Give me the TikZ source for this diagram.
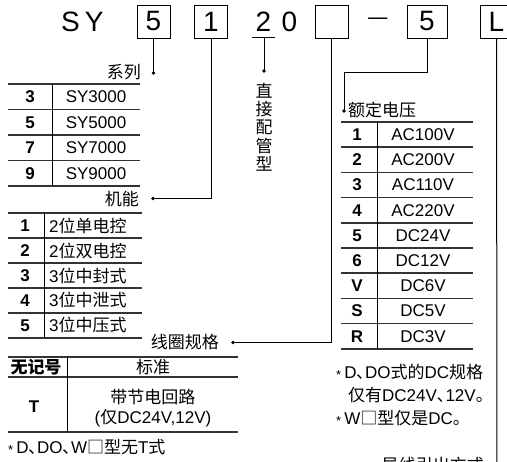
\documentclass[tikz,border=0pt]{standalone}
\usepackage{fontspec}
\setmainfont{Liberation Sans}
\newfontfamily\cjk{Noto Sans CJK SC}
\newcommand{\zh}[1]{{\cjk #1}}
\newcommand{\notemark}{\raisebox{-1.5pt}{\fontsize{13}{13}\selectfont *}\hspace{3pt}}

\begin{document}
\begin{tikzpicture}[x=1pt,y=-1pt,
    every node/.style={inner sep=0pt,font=\fontsize{17}{18.3}\selectfont},
    title/.style={font=\fontsize{28}{30}\selectfont},
    codebox/.style={draw,line width=0.9pt,minimum width=33pt,minimum height=33pt,title},
    rule/.style={line width=1.6pt,black!80},
    sep/.style={line width=1pt},
    wire/.style={line width=1pt},
    key/.style={font=\fontsize{17}{18}\selectfont\bfseries}]
        \useasboundingbox (0,0) rectangle (507,462);

        % draw the model code
        \node[title,anchor=base west] (sy) at (61,32) {S\hspace{5pt}Y};
        \node[codebox] (ser) at (153.5,21.5) {5};
        \node[codebox] (fun) at (211,21.5) {1};
        \node[title,anchor=base] (two) at (263.5,32) {2};
        \node[title,anchor=base] (zero) at (289.5,32) {0};
        \node[codebox] (coil) at (331.5,21.5) {};
        \node[title,font=\fontsize{24}{24}\cjk] (dash) at (378.5,22) {—};
        \node[codebox,minimum width=40pt] (volt) at (427,21.5) {5};
        \node[codebox] (lead) at (496.5,21.5) {L};
        \draw[wire] (252,38) -- (275,38);

        % dots at the end of each lead
        \coordinate (serdot)  at (153.5,73);
        \coordinate (fundot)  at (153,198.5);
        \coordinate (twotop)  at (264,38);
        \coordinate (twodot)  at (264,71);
        \coordinate (coildot) at (233,342.5);
        \coordinate (voltbend) at (344,73);
        \coordinate (voltdot) at (344,111);
        \coordinate (leadend) at (497,470);
        \foreach \p in {serdot,fundot,twodot,coildot,voltdot}
                \fill (\p) circle(1.9);

        % leads from the code to the tables
        \draw[wire] (ser) -- (serdot);
        \draw[wire] (fun) |- (fundot);
        \draw[wire] (twotop) -- (twodot);
        \draw[wire] (coil) |- (coildot);
        \draw[wire] (volt) |- (voltbend) -- (voltdot);
        \draw[wire] (lead) -- (leadend);

        % captions
        \node[anchor=east] (sercap) at (141,72) {\zh{系列}};
        \node[anchor=east] (funcap) at (139,199) {\zh{机能}};
        \node[align=center] (twocap) at (264,127) {\zh{直}\\\zh{接}\\\zh{配}\\\zh{管}\\\zh{型}};
        \node[anchor=east] (coilcap) at (219,342) {\zh{线圈规格}};
        \node[anchor=west] (voltcap) at (348,110) {\zh{额定电压}};
        \node[anchor=base east] (leadcap) at (484,472) {\zh{导线引出方式}};

        % the series table
        \foreach \y in {84,109.5,135,160.5,186}
                \draw[rule] (8,\y) -- (140,\y);
        \draw[sep] (52,84) -- (52,186);
        \foreach \k/\ktext [count=\i] in {3/SY3000,5/SY5000,7/SY7000,9/SY9000} {
                \node[key] (serk\i) at (30,{71.25+25.5*\i}) {\k};
                \node (serv\i) at (96,{71.25+25.5*\i}) {\ktext};
        }

        % the function table
        \foreach \y in {213,238,263,288,313,338}
                \draw[rule] (8,\y) -- (142,\y);
        \draw[sep] (44,213) -- (44,338);
        \foreach \k/\ktext in {
            1/2\zh{位单电控},
            2/2\zh{位双电控},
            3/3\zh{位中封式},
            4/3\zh{位中泄式},
            5/3\zh{位中压式}} {
                \node[key] (funk\k) at (25,{200.5+25*\k}) {\k};
                \node[anchor=west] (funv\k) at (49,{200.5+25*\k}) {\ktext};
        }

        % the coil table
        \foreach \y in {357,377,432}
                \draw[rule] (8,\y) -- (238,\y);
        \draw[sep] (67,357) -- (67,432);
        \node (nomark) at (36,367) {\zh{\bfseries 无记号}};
        \node (std) at (153,367) {\zh{标准}};
        \node[key] (tkey) at (34,407) {T};
        \node[align=center,font=\fontsize{17}{20}\selectfont] (tval) at (153,408)
                {\zh{带节电回路}\\(\zh{仅}DC24V,12V)};
        \node[anchor=west] (coilnote) at (8,447)
                {\notemark D\zh{､}DO\zh{､}W\zh{□型无}T\zh{式}};

        % the voltage table
        \foreach \k in {0,...,9}
                \draw[rule] (341,{122+25.2*\k}) -- (473,{122+25.2*\k});
        \draw[sep] (377,122) -- (377,349);
        \foreach \k/\ktext [count=\i] in {
            1/AC100V, 2/AC200V, 3/AC110V, 4/AC220V,
            5/DC24V, 6/DC12V, V/DC6V, S/DC5V, R/DC3V} {
                \node[key] (volk\i) at (357,{109.4+25.2*\i}) {\k};
                \node (volv\i) at (423,{109.4+25.2*\i}) {\ktext};
        }
        \node[anchor=west] (voltnote1) at (336,372)
                {\notemark D\zh{､}DO\zh{式的}DC\zh{规格}};
        \node[anchor=west] (voltnote2) at (348,395)
                {\zh{仅有}DC24V\zh{､}12V\zh{。}};
        \node[anchor=west] (voltnote3) at (336,418)
                {\notemark W\zh{□型仅是}DC\zh{。}};
\end{tikzpicture}
\end{document}
